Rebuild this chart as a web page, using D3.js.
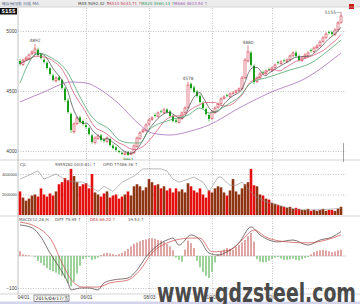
<!DOCTYPE html>
<html>
<head>
<meta charset="utf-8">
<style>
  body { margin: 0; background: #fff; }
  svg { display: block; font-family: 'DejaVu Sans', 'Liberation Sans', Arial, sans-serif; }
  .grid .tick line { stroke: #c4c4c4; stroke-dasharray: 1 1.5; }
  .grid .domain { display: none; }
  .axis .tick text { font-size: 4.8px; fill: #444; }
  .axis .domain, .axis .tick line { display: none; }
  .vaxis .tick text { font-size: 3.8px; }
  .hdr { font-size: 4px; fill: #555; }
</style>
</head>
<body>
<svg width="360" height="304"></svg>
<script src="https://d3js.org/d3.v7.min.js"></script>
<script>

// daily candles
let opens = [4750,4722,4765,4770,4810,4820,4845,4805,4760,4735,
  4690,4630,4585,4615,4590,4520,4420,4310,4160,4230,
  4280,4250,4215,4190,4130,4070,4105,4130,4095,4080,
  4100,4045,4030,4000,3985,3970,3990,3970,3985,4040,
  4105,4160,4170,4225,4265,4300,4290,4330,4320,4345,
  4330,4290,4255,4240,4270,4320,4365,4560,4530,4495,
  4460,4400,4350,4300,4270,4320,4365,4395,4440,4465,
  4455,4480,4490,4505,4520,4610,4750,4820,4710,4580,
  4610,4655,4645,4680,4670,4695,4740,4730,4755,4745,
  4760,4795,4820,4790,4755,4780,4795,4840,4830,4860,
  4880,4915,4945,4990,4990,4970,5010,5070]
let closes = [4725,4758,4775,4800,4825,4850,4800,4775,4742,4692,
  4642,4592,4608,4592,4525,4425,4325,4175,4225,4275,
  4242,4225,4200,4142,4075,4108,4125,4092,4083,4108,
  4050,4025,4008,3992,3975,3983,3967,3983,4042,4108,
  4150,4175,4217,4258,4275,4292,4317,4325,4342,4325,
  4292,4250,4242,4275,4317,4358,4550,4525,4492,4458,
  4408,4358,4308,4267,4325,4358,4392,4433,4450,4458,
  4475,4483,4500,4517,4608,4758,4825,4717,4575,4608,
  4642,4650,4667,4675,4692,4717,4733,4742,4750,4758,
  4792,4817,4792,4758,4775,4800,4817,4833,4858,4875,
  4908,4942,4975,4983,4975,5008,5067,5125]
let highs = [4768,4770,4790,4812,4840,4892,4860,4818,4772,4748,
  4702,4645,4625,4630,4600,4535,4440,4320,4240,4290,
  4295,4262,4230,4200,4142,4122,4140,4142,4110,4122,
  4112,4060,4040,4012,3998,3995,4000,3995,4055,4120,
  4165,4190,4230,4272,4290,4315,4330,4345,4360,4358,
  4342,4302,4268,4290,4330,4372,4578,4572,4545,4508,
  4472,4415,4362,4312,4340,4372,4405,4448,4465,4478,
  4490,4498,4512,4530,4625,4775,4880,4835,4722,4622,
  4658,4670,4680,4695,4705,4730,4752,4758,4768,4772,
  4805,4832,4835,4802,4790,4815,4830,4855,4872,4890,
  4922,4958,4990,5005,5002,5025,5082,5155]
let lows = [4710,4708,4752,4758,4798,4808,4785,4762,4728,4678,
  4628,4578,4570,4580,4510,4410,4310,4150,4145,4215,
  4228,4212,4185,4128,4060,4055,4092,4078,4070,4065,
  4035,4012,3995,3980,3965,3964,3961,3965,3975,4028,
  4092,4148,4158,4212,4252,4280,4278,4312,4308,4312,
  4278,4238,4230,4228,4258,4308,4352,4510,4480,4445,
  4395,4345,4295,4245,4258,4308,4352,4382,4428,4445,
  4442,4468,4478,4492,4508,4598,4738,4702,4555,4565,
  4598,4638,4632,4662,4658,4682,4720,4718,4738,4732,
  4748,4782,4778,4745,4742,4768,4782,4820,4818,4848,
  4868,4902,4932,4970,4962,4958,4998,5058]

// volume in millions
let volumes = [2.3,1.7,1.4,1.6,1.9,2.0,1.8,2.6,2.0,1.8,
  2.1,1.9,2.3,3.0,3.2,3.6,3.4,4.5,3.8,3.2,
  2.8,3.0,3.1,2.6,4.0,2.2,2.0,1.8,2.1,2.3,
  1.7,1.9,2.0,1.6,1.8,2.0,2.3,1.9,2.8,3.0,
  2.8,2.4,2.7,3.5,3.2,2.9,3.0,2.6,2.8,2.4,
  2.6,2.2,2.6,2.3,2.5,2.2,3.1,2.8,2.4,2.2,
  2.6,2.0,1.7,2.4,2.2,2.6,2.8,2.7,2.2,1.9,
  2.4,3.5,2.3,2.0,2.6,3.0,3.2,4.5,2.9,2.8,
  2.0,1.9,1.6,1.5,1.2,1.1,1.0,0.9,0.8,0.7,
  0.8,0.6,0.7,0.6,0.5,0.5,0.6,0.4,0.5,0.4,
  0.5,0.6,0.4,0.5,0.5,0.4,0.6,0.8]

// open interest line [index, millions]
let oiPoints = [[0,3.5],[6,4.3],[8,3.5],[12,4.0],[16,3.3],[21,3.2],[26,2.3],[28,2.8],
  [31,2.3],[34,3.2],[38,3.8],[41,4.5],[47,4.5],[49,4.3],[51,3.5],[53,3.2],[56,3.5],
  [58,3.7],[61,3.2],[63,2.3],[66,3.7],[67,3.7],[70,2.9],[72,2.9],[74,3.2],[78,1.9],
  [82,1.3],[87,0.85],[93,0.5],[100,0.5],[107,0.65]]

// longer averages [index, price]
let ma20Points = [[0,4567],[6,4817],[10,4783],[16,4650],[20,4450],[24,4283],[30,4175],
  [33,4092],[37,4067],[40,4067],[43,4175],[50,4258],[56,4300],[60,4358],[63,4317],
  [70,4400],[73,4450],[77,4567],[83,4617],[90,4675],[97,4733],[103,4842],[107,4925]]
let ma60Points = [[0,4408],[8,4492],[17,4575],[22,4567],[27,4508],[33,4392],[40,4217],
  [44,4150],[50,4133],[57,4167],[63,4217],[73,4358],[83,4483],[96,4617],[107,4817]]

// MACD
let macdHist = [15,5,3,2,0,-3,-15,-22,-30,-38,
  -44,-48,-52,-58,-62,-70,-85,-95,-80,-55,
  -30,-10,-5,-3,-12,-10,-5,3,8,10,
  8,6,4,6,10,15,22,30,38,42,
  46,50,52,55,56,54,50,48,44,38,
  30,18,-5,-12,-18,20,48,40,25,-15,
  -35,-50,-62,-69,-50,-20,5,15,20,25,
  22,19,28,35,42,50,62,72,45,-10,
  -18,-20,-19,-15,-10,-5,-3,-8,-12,-12,
  -10,-8,-12,-14,-10,-6,-3,5,12,16,
  18,19,17,15,12,14,18,20]
let diffPoints = [[0,97],[4,88],[7,59],[10,9],[13,-34],[16,-84],[17,-106],[20,-100],
  [23,-100],[26,-106],[28,-84],[31,-75],[36,-69],[39,-44],[42,-3],[46,34],[49,50],
  [51,56],[53,34],[57,66],[60,50],[63,9],[66,3],[69,13],[73,41],[77,91],[80,66],
  [86,44],[91,50],[96,34],[100,50],[104,59],[107,76]]
let deaPoints = [[0,106],[6,88],[11,41],[14,-22],[18,-84],[21,-97],[26,-97],[30,-84],
  [36,-75],[40,-44],[44,9],[49,41],[52,50],[57,56],[60,56],[64,13],[70,19],[74,50],
  [78,81],[82,59],[89,44],[96,41],[102,50],[107,66]]

let priceTicks = [4000, 4500, 5000]
let volTicks = [2, 4]
let volTickLabels = ["2000000", "4000000"]
let macdTicks = [-100]
let dateTicks = [0, 22, 43, 64, 84]
let dateLabels = ["04/01", "06/01", "08/03", "10/08", "12/01"]
let maLabels = ["MA5 5092.42 \u2191", "MA10 5043.71 \u2191", "MA20 4960.14 \u2191", "MA60 4813.54 \u2191"]
let highMarks = [5, 56, 76]
let lowMarks = [36]

let svg = d3.select("svg")
let left = 18, right = 346

let x = d3.scaleLinear().domain([0, 107]).range([20, 341])
let yP = d3.scaleLinear().domain([4000, 5000]).range([151, 31])
let yV = d3.scaleLinear().domain([0, 4]).range([215, 174])
let yM = d3.scaleLinear().domain([-100, 0]).range([288, 256])

// top strip
svg.append("rect").attr("x", 0).attr("y", 0).attr("width", 360).attr("height", 7).attr("fill", "#ececec")
svg.append("text").attr("x", 2).attr("y", 5).attr("class", "hdr").style("fill", "#5a6a90")
  .text("螺纹钢指数 日线 MA")
let maColors = ["#444", "#d04a6a", "#3a9a5a", "#9a5ab0"]
let maX = [78, 108, 141, 174]
maLabels.forEach(function (t, k) {
  svg.append("text").attr("x", maX[k]).attr("y", 5).attr("class", "hdr")
    .style("fill", maColors[k]).text(t)
})
svg.append("rect").attr("x", 349).attr("y", 4).attr("width", 5).attr("height", 5).attr("fill", "#d01818")

// grids
svg.append("g").attr("class", "grid").attr("transform", `translate(${left},0)`)
  .call(d3.axisLeft(yP).tickValues(priceTicks).tickSize(-(right - left)).tickFormat(""))
svg.append("g").attr("class", "grid").attr("transform", `translate(${left},0)`)
  .call(d3.axisLeft(yV).tickValues(volTicks).tickSize(-(right - left)).tickFormat(""))
svg.append("g").attr("class", "grid").attr("transform", `translate(${left},0)`)
  .call(d3.axisLeft(yM).tickValues(macdTicks).tickSize(-(right - left)).tickFormat(""))
svg.append("g").attr("class", "grid").attr("transform", "translate(0,294)")
  .call(d3.axisBottom(x).tickValues(dateTicks.slice(1)).tickSize(-287).tickFormat(""))

// panel frames
;[7, 160, 216, 294].forEach(function (yy) {
  svg.append("line").attr("x1", 0).attr("x2", 360).attr("y1", yy).attr("y2", yy)
    .style("stroke", "#b8b8b8").style("stroke-width", 0.6)
})
svg.append("line").attr("x1", left).attr("x2", left).attr("y1", 7).attr("y2", 294)
  .style("stroke", "#999").style("stroke-width", 0.6)
svg.append("line").attr("x1", x.range()[0] - 2).attr("x2", right).attr("y1", yM(0)).attr("y2", yM(0))
  .style("stroke", "#aaa").style("stroke-width", 0.5)

// axis labels
svg.append("g").attr("class", "axis").attr("transform", `translate(${left},0)`)
  .call(d3.axisLeft(yP).tickValues(priceTicks).tickSize(0).tickPadding(1).tickFormat(d3.format("d")))
svg.append("g").attr("class", "axis vaxis").attr("transform", `translate(${left},0)`)
  .call(d3.axisLeft(yV).tickValues(volTicks).tickSize(0).tickPadding(1)
    .tickFormat(function (d, k) { return volTickLabels[k] }))
svg.append("g").attr("class", "axis").attr("transform", `translate(${left},0)`)
  .call(d3.axisLeft(yM).tickValues(macdTicks).tickSize(0).tickPadding(1).tickFormat(d3.format("d")))
let xAxis = svg.append("g").attr("class", "axis").attr("transform", "translate(0,294)")
  .call(d3.axisBottom(x).tickValues(dateTicks).tickSize(0).tickPadding(2)
    .tickFormat(function (d, k) { return dateLabels[k] }))
xAxis.selectAll(".tick text").filter(function (d) { return d === 0 })
  .attr("text-anchor", "start").attr("dx", -3)

// current price box
svg.append("rect").attr("x", 0).attr("y", 8).attr("width", 17).attr("height", 6.5).attr("fill", "#111")
svg.append("text").attr("x", 1.5).attr("y", 13).style("font-size", "5px").style("fill", "#fff")
  .style("font-weight", "bold").text(String(highs[107]))

// price panel
svg.append("clipPath").attr("id", "pclip").append("rect")
  .attr("x", left).attr("y", 8).attr("width", right - left).attr("height", 152)
let price = svg.append("g").attr("clip-path", "url(#pclip)")

let idx = d3.range(closes.length)
let upC = "#cc3040", downC = "#16a016"

price.selectAll(".wick").data(idx).enter().append("line")
  .attr("x1", d => x(d)).attr("x2", d => x(d))
  .attr("y1", d => yP(highs[d])).attr("y2", d => yP(lows[d]))
  .style("stroke", d => closes[d] >= opens[d] ? upC : downC).style("stroke-width", 0.6)

price.selectAll(".body").data(idx).enter().append("rect")
  .attr("x", d => x(d) - 1).attr("width", 2)
  .attr("y", d => yP(Math.max(opens[d], closes[d])))
  .attr("height", d => Math.max(0.6, Math.abs(yP(opens[d]) - yP(closes[d]))))
  .style("fill", d => closes[d] >= opens[d] ? "#fff" : downC)
  .style("stroke", d => closes[d] >= opens[d] ? upC : "none").style("stroke-width", 0.6)

function movingAvg(n) {
  return idx.map(function (i) {
    let s = closes.slice(Math.max(0, i - n + 1), i + 1)
    return [i, d3.mean(s)]
  })
}
let line = d3.line().x(d => x(d[0])).y(d => yP(d[1])).curve(d3.curveMonotoneX)
let maSeries = [movingAvg(5), movingAvg(10), ma20Points, ma60Points]
maSeries.forEach(function (s, k) {
  price.append("path").attr("d", line(s)).style("fill", "none")
    .style("stroke", maColors[k]).style("stroke-width", 0.7)
})

highMarks.forEach(function (i) {
  price.append("text").attr("x", x(i)).attr("y", yP(highs[i]) - 1.5).attr("text-anchor", "middle")
    .style("font-size", "4.4px").style("fill", "#555").text(String(highs[i]))
})
lowMarks.forEach(function (i) {
  price.append("text").attr("x", x(i)).attr("y", yP(lows[i]) + 5).attr("text-anchor", "middle")
    .style("font-size", "4.4px").style("fill", "#2a7a2a").text(String(lows[i]))
})
price.append("text").attr("x", x(107) - 5).attr("y", yP(highs[107]) + 1.5).attr("text-anchor", "end")
  .style("font-size", "4.4px").style("fill", "#555").text(String(highs[107]))
price.append("line").attr("x1", x(107) - 4.5).attr("x2", x(107)).attr("y1", yP(highs[107]))
  .attr("y2", yP(highs[107])).style("stroke", "#777").style("stroke-width", 0.5)

// cursor line
svg.append("line").attr("x1", 343.5).attr("x2", 343.5).attr("y1", 143).attr("y2", 162)
  .style("stroke", "#666").style("stroke-width", 0.6)

// volume panel
svg.append("text").attr("class", "hdr").attr("x", 20).attr("y", 166).text("CJL")
svg.append("text").attr("class", "hdr").attr("x", 55).attr("y", 166).text("5955282.00(0.61) \u2191")
svg.append("text").attr("class", "hdr").attr("x", 103).attr("y", 166).text("OPID 77486.36 \u2191")

svg.selectAll(".vbar").data(idx).enter().append("rect")
  .attr("x", d => x(d) - 1.3).attr("width", 2.6)
  .attr("y", d => yV(volumes[d])).attr("height", d => yV(0) - yV(volumes[d]))
  .style("fill", d => closes[d] >= opens[d] ? "#8e3412" : "#e41010")

svg.append("path")
  .attr("d", d3.line().x(d => x(d[0])).y(d => yV(d[1]))(oiPoints))
  .style("fill", "none").style("stroke", "#8a8a8a").style("stroke-width", 0.6)

// MACD panel
svg.append("text").attr("class", "hdr").attr("x", 19).attr("y", 221).text("MACD(12,26,9)")
svg.append("text").attr("class", "hdr").attr("x", 55).attr("y", 221).text("DIFF 75.95 \u2191")
svg.append("text").attr("class", "hdr").attr("x", 90).attr("y", 221).style("fill", "#c04040").text("DEA 66.20 \u2191")
svg.append("text").attr("class", "hdr").attr("x", 128).attr("y", 221).text("19.53 \u2191")

svg.selectAll(".mbar").data(idx).enter().append("rect")
  .attr("x", d => x(d) - 0.8).attr("width", 1.6)
  .attr("y", d => Math.min(yM(0), yM(macdHist[d])))
  .attr("height", d => Math.abs(yM(macdHist[d]) - yM(0)))
  .style("fill", d => macdHist[d] >= 0 ? "#d99090" : "#86c886")

let mline = d3.line().x(d => x(d[0])).y(d => yM(d[1])).curve(d3.curveMonotoneX)
svg.append("path").attr("d", mline(diffPoints)).style("fill", "none")
  .style("stroke", "#4a3a3a").style("stroke-width", 0.7)
svg.append("path").attr("d", mline(deaPoints)).style("fill", "none")
  .style("stroke", "#cc4848").style("stroke-width", 0.7)

// bottom strip, cursor date, watermark
svg.append("rect").attr("x", 0).attr("y", 301.5).attr("width", 360).attr("height", 2.5).attr("fill", "#d4d4ec")
svg.append("rect").attr("x", 34).attr("y", 295).attr("width", 35).attr("height", 6.5)
  .attr("fill", "#fff").style("stroke", "#333").style("stroke-width", 0.5)
svg.append("text").attr("x", 35.5).attr("y", 300.3).style("font-size", "4.6px").style("fill", "#222")
  .text("2015/04/17/五")

svg.append("text").attr("x", 157).attr("y", 301.5)
  .attr("textLength", 199).attr("lengthAdjust", "spacingAndGlyphs")
  .style("font-family", "'Liberation Sans Narrow', 'DejaVu Sans Condensed', 'Liberation Sans', sans-serif")
  .style("font-weight", "bold").style("font-size", "27px").style("fill", "#4a4a4a")
  .text("www.gdzsteel.com")

</script>
</body>
</html>
